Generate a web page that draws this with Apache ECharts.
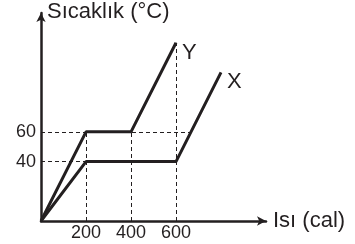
<!DOCTYPE html>
<html>
<head>
<meta charset="utf-8">
<script src="https://cdn.jsdelivr.net/npm/echarts@6/dist/echarts.min.js"></script>
<style>
  html, body { margin: 0; padding: 0; background: #fff; }
  #chart { width: 355px; height: 244px; }
</style>
</head>
<body>
<div id="chart"></div>
<script>
// isı (cal) - sıcaklık (°C) verileri
const seriesNames = ['Y', 'X']
const yLine = [[0, 0], [200, 60], [400, 60], [600, 120]]
const xLine = [[0, 0], [200, 40], [600, 40], [800, 100]]
const xTickLabels = [200, 400, 600]
const yTickLabels = [40, 60]
// kesikli yardımcı çizgiler
const guides = [
  [[0, 60], [667, 60]],
  [[0, 40], [200, 40]],
  [[200, 0], [200, 60]],
  [[400, 0], [400, 60]],
  [[600, 0], [600, 120]]
]

const ink = '#231f20'
const font = 'Liberation Sans, Arial, sans-serif'

const chart = echarts.init(document.getElementById('chart'))

const lineSeries = (name, data) => ({
  name: name,
  type: 'line',
  data: data,
  symbol: 'none',
  z: 5,
  lineStyle: { color: ink, width: 3 },
  endLabel: {
    show: true,
    formatter: '{a}',
    color: ink,
    fontFamily: font,
    fontSize: 22,
    offset: [-2, 10]
  }
})

chart.setOption({
  animation: false,
  grid: { left: 41, top: 13, width: 225, height: 208 },
  xAxis: {
    type: 'value',
    min: 0,
    max: 1000,
    name: 'Isı (cal)',
    nameLocation: 'end',
    nameGap: 7,
    nameTextStyle: { color: ink, fontFamily: font, fontSize: 22, verticalAlign: 'middle' },
    splitLine: { show: false },
    axisTick: { show: false },
    axisLine: { lineStyle: { color: ink, width: 2.5 }, symbol: ['none', 'arrow'], symbolSize: [7, 9] },
    axisLabel: { customValues: xTickLabels, color: ink, fontFamily: font, fontSize: 18, margin: 3 }
  },
  yAxis: {
    type: 'value',
    min: 0,
    max: 140,
    name: 'Sıcaklık (°C)',
    nameLocation: 'end',
    nameGap: 1,
    nameTextStyle: { color: ink, fontFamily: font, fontSize: 22, align: 'left', verticalAlign: 'middle', padding: [0, 0, 0, 6] },
    splitLine: { show: false },
    axisTick: { show: false },
    axisLine: { lineStyle: { color: ink, width: 2.5 }, symbol: ['none', 'arrow'], symbolSize: [7, 9] },
    axisLabel: { customValues: yTickLabels, color: ink, fontFamily: font, fontSize: 18, margin: 5 }
  },
  series: [
    lineSeries(seriesNames[0], yLine),
    lineSeries(seriesNames[1], xLine),
    {
      type: 'line',
      data: [],
      silent: true,
      markLine: {
        symbol: 'none',
        silent: true,
        label: { show: false },
        lineStyle: { color: ink, width: 1, type: [4, 3] },
        data: guides.map(g => [{ coord: g[0] }, { coord: g[1] }])
      }
    }
  ]
})
</script>
</body>
</html>
